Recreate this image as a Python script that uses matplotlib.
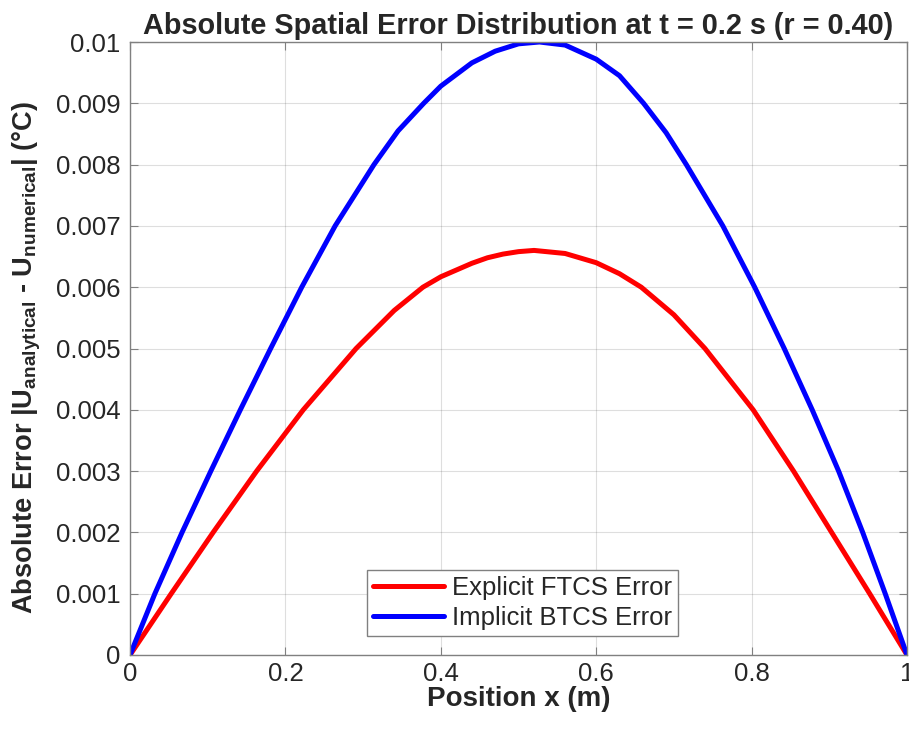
import matplotlib
matplotlib.use("Agg")
import matplotlib.pyplot as plt
from matplotlib.ticker import FixedLocator, FixedFormatter

plt.rcParams['font.family'] = ['Liberation Sans', 'DejaVu Sans']
plt.rcParams['mathtext.fontset'] = 'custom'
plt.rcParams['mathtext.rm'] = 'Liberation Sans:bold'
plt.rcParams['mathtext.bf'] = 'Liberation Sans:bold'

# Explicit FTCS error
ftcs_x = [0.0, 0.053, 0.107, 0.163, 0.223, 0.291, 0.34, 0.377, 0.40, 0.44,
          0.46, 0.48, 0.50, 0.52, 0.56, 0.60, 0.63, 0.658, 0.70, 0.740, 0.802,
          0.854, 0.903, 0.952, 1.0]
ftcs_err = [0.0, 0.001, 0.002, 0.003, 0.004, 0.005, 0.00562, 0.006, 0.00617,
            0.00639, 0.00648, 0.00654, 0.00658, 0.0066, 0.00655, 0.0064,
            0.00622, 0.006, 0.00555, 0.005, 0.004, 0.003, 0.002, 0.001, 0.0]

# Implicit BTCS error
btcs_x = [0.0, 0.032, 0.067, 0.104, 0.142, 0.181, 0.221, 0.264, 0.314, 0.345,
          0.378, 0.40, 0.44, 0.47, 0.50, 0.527, 0.56, 0.60, 0.63, 0.661, 0.69,
          0.716, 0.763, 0.804, 0.842, 0.878, 0.912, 0.943, 0.972, 1.0]
btcs_err = [0.0, 0.001, 0.002, 0.003, 0.004, 0.005, 0.006, 0.007, 0.008,
            0.00855, 0.009, 0.00928, 0.00966, 0.00985, 0.00997, 0.0100,
            0.00995, 0.00972, 0.00945, 0.009, 0.00852, 0.008, 0.007, 0.006,
            0.005, 0.004, 0.003, 0.002, 0.001, 0.0]

xticks = [0, 0.2, 0.4, 0.6, 0.8, 1.0]
xtick_labels = ['0', '0.2', '0.4', '0.6', '0.8', '1']
yticks = [0, 0.001, 0.002, 0.003, 0.004, 0.005, 0.006, 0.007, 0.008, 0.009, 0.01]
ytick_labels = ['0', '0.001', '0.002', '0.003', '0.004', '0.005', '0.006',
                '0.007', '0.008', '0.009', '0.01']

fig = plt.figure(figsize=(9.09, 7.31), dpi=100)
ax = fig.add_axes([130/909, 76/731, 777/909, 613/731])

ax.plot(ftcs_x, ftcs_err, color='#ff0000', lw=3.6, label='Explicit FTCS Error',
        solid_capstyle='round', solid_joinstyle='round')
ax.plot(btcs_x, btcs_err, color='#0000ff', lw=3.6, label='Implicit BTCS Error',
        solid_capstyle='round', solid_joinstyle='round')

ax.set_xlim(0, 1)
ax.set_ylim(0, 0.01)
ax.xaxis.set_major_locator(FixedLocator(xticks))
ax.xaxis.set_major_formatter(FixedFormatter(xtick_labels))
ax.yaxis.set_major_locator(FixedLocator(yticks))
ax.yaxis.set_major_formatter(FixedFormatter(ytick_labels))

ax.grid(True, color='#262626', alpha=0.15, lw=0.8)
ax.set_axisbelow(True)
for s in ax.spines.values():
    s.set_color('#808080')
    s.set_linewidth(1.0)
ax.tick_params(direction='in', length=6, width=0.8, colors='#808080',
               labelcolor='#262626', labelsize=18.5, top=True, right=True)
ax.tick_params(axis='y', pad=7)
ax.tick_params(axis='x', pad=5)

ax.set_title('Absolute Spatial Error Distribution at t = 0.2 s (r = 0.40)',
             fontsize=20.8, fontweight='bold', color='#262626', pad=6)
ax.set_xlabel('Position x (m)', fontsize=20, fontweight='bold', color='#262626')
ax.xaxis.set_label_coords(0.5, -0.05)
ax.set_ylabel(r'Absolute Error |U$_{\mathrm{analytical}}$ - U$_{\mathrm{numerical}}$| (°C)',
              fontsize=19.6, fontweight='bold', color='#262626')
ax.yaxis.set_label_coords(-0.112, 0.485)

leg = ax.legend(loc='lower center', bbox_to_anchor=(0.505, 0.031), fontsize=18.5,
                frameon=True, fancybox=False, edgecolor='#808080', framealpha=1,
                handlelength=2.75, borderpad=0.25, labelspacing=0.2, handletextpad=0.3,
                borderaxespad=0)
leg.get_frame().set_linewidth(1.0)
for t in leg.get_texts():
    t.set_color('#262626')

fig.savefig('out.png', dpi=100)
